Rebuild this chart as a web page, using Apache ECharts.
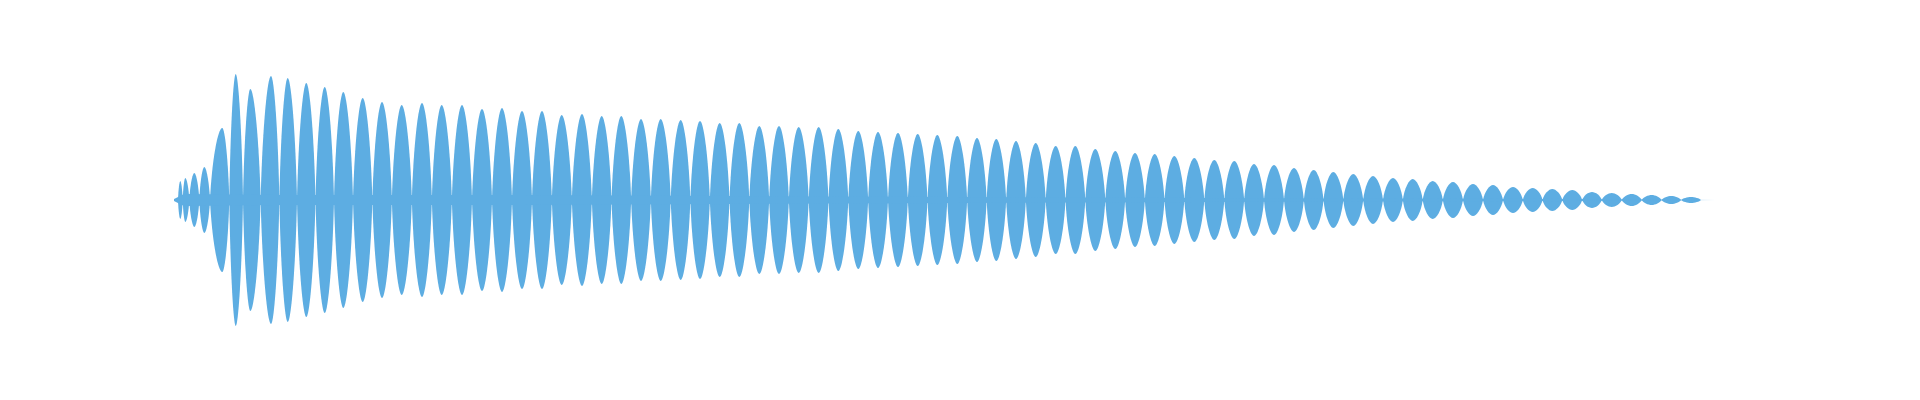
<!DOCTYPE html>
<html>
<head>
    <meta charset="UTF-8">
    <title>waveform</title>
    <script src="https://cdn.jsdelivr.net/npm/echarts@6/dist/echarts.min.js"></script>
    <style>
        html, body { margin: 0; padding: 0; background: #fff; }
        #main { width: 1920px; height: 400px; }
    </style>
</head>
<body>
<div id="main"></div>
<script>
    // peak position of every lobe (x units from the start of the signal)
    var peakX = [6.3, 11.3, 20.3, 30.3, 48.3, 61.7, 76.3, 97, 113.7, 132.3,
        150.7, 169.3, 188.7, 208, 227.7, 248, 267.7, 288, 308, 328,
        348, 368, 387.7, 408, 427.7, 447.3, 467, 486.7, 506.7, 526,
        545.7, 565.3, 585.3, 605, 624.7, 644.7, 664.3, 684.3, 704, 724,
        743.7, 763.3, 783.3, 803, 822.3, 842, 861.7, 881.7, 901.3, 921.3,
        941.3, 961, 980.7, 1000.3, 1020.3, 1040.3, 1060.3, 1080, 1100, 1120,
        1139.7, 1159.3, 1179.3, 1199, 1219, 1238.7, 1258.7, 1279, 1299, 1319,
        1339, 1358.7, 1378.3, 1398.3, 1418, 1437.7, 1457.7, 1477.7, 1497.3, 1517];
    // peak amplitude of every lobe
    var peakAmp = [19, 22, 27, 33, 72, 126, 111, 124, 122, 117,
        113, 108, 102, 98, 95, 97, 95, 95, 91, 92,
        89, 89, 85, 86, 84, 84, 81, 81, 80, 79,
        77, 77, 74, 74, 73, 73, 71, 69, 68, 67,
        66, 65, 64, 62, 61, 59, 57, 54, 54, 51,
        49, 47, 46, 44, 42, 40, 39, 36, 35, 32,
        30, 28, 26, 24, 22, 21, 19, 18, 16, 15,
        13, 12, 11, 10, 8, 7, 6, 5, 4, 3];
    // where the lobes meet (first and last edge of the signal, and the irregular start)
    var startEdges = [4, 8.7, 15.3, 25.3, 36, 55.3];
    var lastEdge = 1527;
    // thin centre band that joins the lobes
    var bandX = [0, 10, 100, 350, 650, 900, 1150, 1400, 1541];
    var bandAmp = [1, 6, 5, 5, 3.5, 2.5, 1.5, 1, 1];

    var edges = [];
    for (var i = 0; i <= peakX.length; i++) {
        if (i < startEdges.length) edges.push(startEdges[i]);
        else if (i === peakX.length) edges.push(lastEdge);
        else edges.push((peakX[i - 1] + peakX[i]) / 2);
    }
    var lobes = peakX.map(function (x, i) {
        return [edges[i], x, edges[i + 1], peakAmp[i]];
    });
    var bandTop = bandX.map(function (x, i) { return [x, bandAmp[i]]; });
    var bandBottom = bandX.map(function (x, i) { return [x, -bandAmp[i]]; });

    var color = '#5dade2';

    // one lobe: rises from the edge to the peak and back, mirrored below zero
    function lobePath(x0, xm, x1, a, api) {
        var w0 = xm - x0, w1 = x1 - xm;
        var pts = [
            [x0, 0],
            [x0 + 0.15 * w0, 0.55 * a], [xm - 0.36 * w0, a], [xm, a],
            [xm + 0.36 * w1, a], [x1 - 0.15 * w1, 0.55 * a], [x1, 0],
            [x1 - 0.15 * w1, -0.55 * a], [xm + 0.36 * w1, -a], [xm, -a],
            [xm - 0.36 * w0, -a], [x0 + 0.15 * w0, -0.55 * a], [x0, 0]
        ].map(function (p) { return api.coord(p); });
        var d = 'M' + pts[0][0] + ' ' + pts[0][1];
        for (var k = 1; k < pts.length; k += 3) {
            d += ' C' + pts[k][0] + ' ' + pts[k][1] + ' ' + pts[k + 1][0] + ' ' + pts[k + 1][1] +
                ' ' + pts[k + 2][0] + ' ' + pts[k + 2][1];
        }
        return d + ' Z';
    }

    var myChart = echarts.init(document.getElementById('main'));
    var option = {
        animation: false,
        grid: { left: 174, right: 205, top: 60, bottom: 60 },
        xAxis: { type: 'value', min: 0, max: 1541, show: false },
        yAxis: { type: 'value', min: -140, max: 140, show: false },
        series: [
            {
                type: 'line',
                data: bandTop,
                showSymbol: false,
                lineStyle: { width: 0 },
                areaStyle: { color: color, opacity: 1 }
            },
            {
                type: 'line',
                data: bandBottom,
                showSymbol: false,
                lineStyle: { width: 0 },
                areaStyle: { color: color, opacity: 1 }
            },
            {
                type: 'custom',
                data: lobes,
                renderItem: function (params, api) {
                    return {
                        type: 'path',
                        shape: {
                            pathData: lobePath(api.value(0), api.value(1), api.value(2), api.value(3), api)
                        },
                        style: { fill: color }
                    };
                }
            }
        ]
    };
    myChart.setOption(option);
</script>
</body>
</html>
